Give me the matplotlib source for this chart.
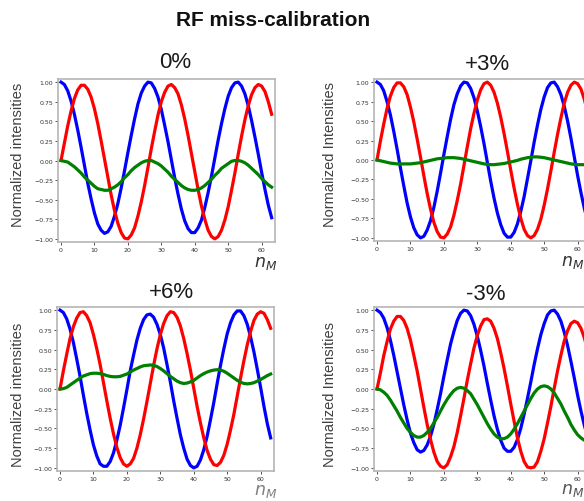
import matplotlib
matplotlib.use("Agg")
import matplotlib.pyplot as plt

# ---- data ----
n_M = list(range(64))

blue_0 = [1.00, 0.97, 0.89, 0.76, 0.59, 0.39, 0.17, -0.06, -0.29, -0.49, -0.67, -0.81, -0.89, -0.93, -0.91, -0.84,
          -0.71, -0.55, -0.35, -0.13, 0.10, 0.32, 0.53, 0.72, 0.86, 0.95, 1.00, 0.99, 0.92, 0.81, 0.65, 0.45,
          0.24, 0.01, -0.22, -0.43, -0.62, -0.77, -0.87, -0.92, -0.92, -0.86, -0.76, -0.60, -0.41, -0.20, 0.03, 0.26,
          0.47, 0.66, 0.82, 0.93, 0.99, 1.00, 0.95, 0.85, 0.70, 0.51, 0.30, 0.08, -0.15, -0.37, -0.57, -0.73]
red_0 = [0.00, 0.22, 0.44, 0.63, 0.79, 0.90, 0.96, 0.96, 0.91, 0.81, 0.66, 0.47, 0.25, 0.02, -0.21, -0.44,
         -0.64, -0.80, -0.92, -0.99, -1.00, -0.95, -0.86, -0.71, -0.53, -0.32, -0.09, 0.15, 0.37, 0.58, 0.75, 0.87,
         0.95, 0.97, 0.93, 0.85, 0.71, 0.53, 0.32, 0.09, -0.14, -0.37, -0.58, -0.75, -0.89, -0.97, -1.00, -0.97,
         -0.89, -0.76, -0.59, -0.38, -0.16, 0.08, 0.31, 0.52, 0.70, 0.84, 0.93, 0.97, 0.95, 0.88, 0.75, 0.59]
green_0 = [0.00, -0.01, -0.02, -0.05, -0.08, -0.12, -0.16, -0.21, -0.25, -0.29, -0.33, -0.36, -0.37, -0.38, -0.38, -0.36,
           -0.34, -0.31, -0.27, -0.22, -0.18, -0.13, -0.09, -0.06, -0.03, -0.01, 0.00, 0.00, -0.02, -0.04, -0.07, -0.11,
           -0.15, -0.20, -0.24, -0.28, -0.32, -0.35, -0.37, -0.38, -0.38, -0.37, -0.35, -0.32, -0.28, -0.24, -0.19, -0.15,
           -0.10, -0.07, -0.04, -0.01, 0.00, 0.00, -0.01, -0.03, -0.06, -0.10, -0.14, -0.18, -0.23, -0.27, -0.31, -0.34]

blue_p3 = [1.00, 0.97, 0.89, 0.75, 0.58, 0.37, 0.14, -0.10, -0.33, -0.55, -0.73, -0.87, -0.96, -1.00, -0.98, -0.90,
           -0.78, -0.61, -0.40, -0.17, 0.07, 0.30, 0.52, 0.71, 0.85, 0.95, 1.00, 0.99, 0.92, 0.80, 0.63, 0.43,
           0.21, -0.03, -0.27, -0.49, -0.68, -0.83, -0.94, -0.99, -0.99, -0.93, -0.82, -0.66, -0.47, -0.24, -0.01, 0.23,
           0.45, 0.65, 0.81, 0.93, 0.99, 1.00, 0.94, 0.84, 0.69, 0.50, 0.28, 0.04, -0.20, -0.42, -0.62, -0.79]
red_p3 = [0.00, 0.24, 0.46, 0.66, 0.82, 0.93, 0.99, 0.99, 0.94, 0.84, 0.68, 0.49, 0.27, 0.04, -0.20, -0.43,
          -0.63, -0.80, -0.92, -0.99, -1.00, -0.95, -0.86, -0.71, -0.52, -0.31, -0.07, 0.17, 0.40, 0.60, 0.77, 0.90,
          0.98, 1.00, 0.96, 0.87, 0.73, 0.55, 0.34, 0.11, -0.13, -0.36, -0.57, -0.75, -0.89, -0.97, -1.00, -0.97,
          -0.89, -0.76, -0.58, -0.37, -0.14, 0.10, 0.33, 0.54, 0.73, 0.87, 0.96, 1.00, 0.98, 0.91, 0.78, 0.61]
green_p3 = [0.00, -0.01, -0.02, -0.03, -0.04, -0.045, -0.05, -0.05, -0.05, -0.05, -0.05, -0.045, -0.04, -0.035, -0.025, -0.015,
            -0.005, 0.005, 0.015, 0.02, 0.025, 0.03, 0.03, 0.03, 0.025, 0.02, 0.01, 0.00, -0.01, -0.02, -0.03, -0.04,
            -0.05, -0.055, -0.06, -0.06, -0.055, -0.05, -0.045, -0.035, -0.025, -0.015, -0.005, 0.01, 0.02, 0.03, 0.035, 0.04,
            0.04, 0.035, 0.03, 0.02, 0.01, 0.00, -0.01, -0.02, -0.03, -0.04, -0.05, -0.055, -0.06, -0.06, -0.06, -0.06]

blue_p6 = [1.00, 0.97, 0.89, 0.76, 0.59, 0.38, 0.16, -0.08, -0.31, -0.52, -0.71, -0.85, -0.95, -0.98, -0.98, -0.92,
           -0.81, -0.65, -0.46, -0.24, -0.01, 0.23, 0.43, 0.62, 0.77, 0.88, 0.94, 0.95, 0.91, 0.82, 0.69, 0.52,
           0.31, 0.09, -0.15, -0.37, -0.58, -0.75, -0.89, -0.97, -1.00, -0.98, -0.90, -0.77, -0.60, -0.39, -0.17, 0.07,
           0.30, 0.51, 0.70, 0.84, 0.94, 0.99, 0.99, 0.93, 0.82, 0.66, 0.47, 0.25, 0.02, -0.22, -0.44, -0.62]
red_p6 = [0.00, 0.23, 0.44, 0.64, 0.79, 0.90, 0.97, 0.98, 0.93, 0.84, 0.69, 0.51, 0.31, 0.08, -0.15, -0.37,
          -0.57, -0.74, -0.87, -0.95, -0.98, -0.95, -0.88, -0.75, -0.58, -0.38, -0.16, 0.07, 0.30, 0.51, 0.69, 0.83,
          0.93, 0.98, 0.97, 0.91, 0.80, 0.64, 0.45, 0.24, 0.01, -0.22, -0.43, -0.62, -0.78, -0.89, -0.96, -0.97,
          -0.93, -0.84, -0.70, -0.52, -0.32, -0.09, 0.14, 0.36, 0.56, 0.73, 0.87, 0.95, 0.98, 0.96, 0.88, 0.77]
green_p6 = [0.00, 0.005, 0.02, 0.05, 0.08, 0.11, 0.14, 0.165, 0.18, 0.195, 0.20, 0.20, 0.195, 0.185, 0.17, 0.16,
            0.155, 0.155, 0.16, 0.175, 0.19, 0.215, 0.24, 0.26, 0.28, 0.295, 0.30, 0.305, 0.30, 0.285, 0.26, 0.23,
            0.195, 0.16, 0.13, 0.10, 0.08, 0.07, 0.075, 0.09, 0.11, 0.14, 0.17, 0.195, 0.215, 0.23, 0.24, 0.245,
            0.24, 0.225, 0.20, 0.17, 0.14, 0.11, 0.085, 0.07, 0.065, 0.07, 0.08, 0.10, 0.12, 0.145, 0.17, 0.19]

blue_m3 = [1.00, 0.97, 0.90, 0.78, 0.62, 0.43, 0.22, 0.01, -0.20, -0.39, -0.56, -0.68, -0.77, -0.80, -0.78, -0.71,
           -0.60, -0.45, -0.26, -0.06, 0.16, 0.37, 0.57, 0.73, 0.87, 0.96, 1.00, 0.99, 0.93, 0.82, 0.67, 0.49,
           0.29, 0.07, -0.14, -0.34, -0.51, -0.65, -0.75, -0.79, -0.79, -0.74, -0.64, -0.50, -0.32, -0.12, 0.09, 0.31,
           0.51, 0.69, 0.83, 0.94, 0.99, 1.00, 0.95, 0.86, 0.72, 0.55, 0.35, 0.14, -0.08, -0.28, -0.46, -0.61]
red_m3 = [0.00, 0.20, 0.42, 0.60, 0.76, 0.86, 0.92, 0.92, 0.87, 0.77, 0.62, 0.43, 0.23, 0.00, -0.23, -0.45,
          -0.64, -0.80, -0.92, -0.98, -1.00, -0.96, -0.86, -0.73, -0.55, -0.34, -0.12, 0.11, 0.32, 0.52, 0.68, 0.80,
          0.88, 0.89, 0.86, 0.77, 0.64, 0.46, 0.26, 0.04, -0.19, -0.41, -0.62, -0.79, -0.92, -0.99, -1.00, -0.99,
          -0.92, -0.79, -0.63, -0.43, -0.22, 0.01, 0.23, 0.43, 0.61, 0.74, 0.83, 0.86, 0.84, 0.77, 0.65, 0.49]
green_m3 = [0.00, -0.01, -0.04, -0.08, -0.14, -0.21, -0.28, -0.36, -0.43, -0.50, -0.55, -0.59, -0.61, -0.61, -0.59, -0.55,
            -0.50, -0.43, -0.36, -0.28, -0.20, -0.13, -0.07, -0.02, 0.01, 0.02, 0.01, -0.02, -0.06, -0.13, -0.20, -0.28,
            -0.36, -0.44, -0.51, -0.57, -0.61, -0.63, -0.63, -0.61, -0.57, -0.51, -0.44, -0.36, -0.28, -0.20, -0.12, -0.05,
            0.00, 0.03, 0.04, 0.03, 0.00, -0.05, -0.12, -0.19, -0.28, -0.36, -0.45, -0.52, -0.58, -0.62, -0.65, -0.65]

panel_titles = ["0%", "+3%", "+6%", "-3%"]
ylabels = ["Normalized intensities", "Normalized Intensities", "Normalized intensities", "Normalized Intensities"]
series = [(blue_0, red_0, green_0), (blue_p3, red_p3, green_p3), (blue_p6, red_p6, green_p6), (blue_m3, red_m3, green_m3)]
yticks = [-1.0, -0.75, -0.5, -0.25, 0.0, 0.25, 0.5, 0.75, 1.0]
xticks = [0, 10, 20, 30, 40, 50, 60]
main_title = "RF miss-calibration"

# ---- layout ----
W, H = 584, 502
fig = plt.figure(figsize=(W / 100, H / 100), dpi=100)

def px(x0, ytop, x1, ybot):
    return [x0 / W, 1 - ybot / H, (x1 - x0) / W, (ybot - ytop) / H]

axes_px = [(58, 80, 275, 243), (374, 80, 591, 242), (57, 308, 274, 472), (374, 308, 591, 472)]
title_px = [(175, 63), (487, 65), (171, 293), (486, 294)]
ylab_px = [(18, 155), (330, 155), (18, 395), (330, 395)]
nm_px = [(266, 263), (573, 262), (266, 491), (573, 490)]
nm_col = ["#333333", "#333333", "#808080", "#555555"]

font = "Liberation Sans"
for i in range(4):
    ax = fig.add_axes(px(*axes_px[i]))
    b, r, g = series[i]
    ax.plot(n_M, b, color="blue", lw=2.3)
    ax.plot(n_M, r, color="red", lw=2.3)
    ax.plot(n_M, g, color="green", lw=2.3)
    ax.set_xlim(-0.9, 64.0)
    ax.set_ylim(-1.04, 1.04)
    ax.set_xticks(xticks)
    ax.set_yticks(yticks)
    ax.tick_params(labelsize=4.5, length=2, width=0.6, pad=1.5, colors="#333333")
    for sp in ax.spines.values():
        sp.set_color("#b5b5b5")
        sp.set_linewidth(1.2)
    fig.text(title_px[i][0] / W, 1 - title_px[i][1] / H, panel_titles[i], fontsize=16,
             family=font, color="#1a1a1a", ha="center", va="center")
    fig.text(ylab_px[i][0] / W, 1 - ylab_px[i][1] / H, ylabels[i], fontsize=10.5,
             family=font, color="#404040", ha="center", va="center", rotation=90)
    fig.text(nm_px[i][0] / W, 1 - nm_px[i][1] / H, r"$n_M$", fontsize=12.5,
             color=nm_col[i], ha="center", va="center")

fig.text(273 / W, 1 - 20 / H, main_title, fontsize=15, fontweight="bold",
         family=font, color="#111111", ha="center", va="center")

fig.savefig("out.png", dpi=100)
